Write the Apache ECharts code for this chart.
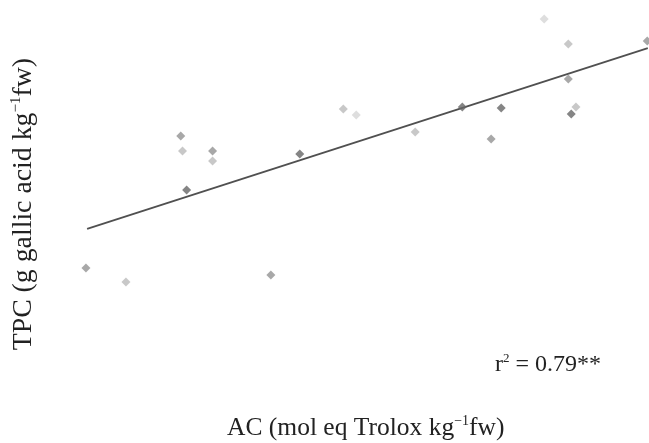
<!DOCTYPE html>
<html>
<head>
<meta charset="utf-8">
<script src="https://cdn.jsdelivr.net/npm/echarts@6/dist/echarts.min.js"></script>
<style>
html,body{margin:0;padding:0;background:#fff;}
#chart{width:649px;height:443px;}
</style>
</head>
<body>
<div id="chart"></div>
<script>
// Data (arbitrary units, no tick labels shown)
const pointsDark   = [[2.15,3.57],[4.07,4.86],[6.83,6.54],[7.49,6.50],[8.68,6.29]];
const pointsMedium = [[0.44,0.79],[2.05,5.50],[2.59,4.96],[3.58,0.54],[7.32,5.39],[8.63,7.54],[9.97,8.89]];
const pointsLight  = [[1.12,0.29],[2.08,4.96],[2.59,4.61],[4.81,6.46],[6.03,5.64],[8.63,8.79],[8.76,6.54]];
const pointsPale   = [[5.03,6.25],[8.22,9.68]];
const trendLine    = [[0.46,2.18],[9.98,8.64]];
const xTitle = 'AC (mol eq Trolox kg';
const yTitle = 'TPC (g gallic acid kg';
const r2Text = '= 0.79**';

const chart = echarts.init(document.getElementById('chart'), null, {renderer:'canvas'});
const serif = '"Liberation Serif","DejaVu Serif",serif';
const sym = {type:'scatter', symbol:'diamond', symbolSize:9, z:3};
const hiddenAxis = {
  type:'value', min:0, max:10,
  axisLine:{show:false}, axisTick:{show:false}, axisLabel:{show:false}, splitLine:{show:false}
};
function richStyle(size, lh) {
  return {
    a:{fontFamily:serif, fontSize:size, fill:'#222', lineHeight:lh},
    s:{fontFamily:serif, fontSize:Math.round(size*0.55), fill:'#222', verticalAlign:'top', lineHeight:lh}
  };
}
chart.setOption({
  animation:false,
  backgroundColor:'#fff',
  grid:{left:60, right:0, top:10, height:280, containLabel:false},
  xAxis:Object.assign({}, hiddenAxis),
  yAxis:Object.assign({}, hiddenAxis),
  series:[
    {type:'line', data:trendLine, symbol:'none', lineStyle:{color:'#505050', width:1.8}, z:2},
    Object.assign({}, sym, {data:pointsPale,   itemStyle:{color:'#d6d6d6'}}),
    Object.assign({}, sym, {data:pointsLight,  itemStyle:{color:'#bababa'}}),
    Object.assign({}, sym, {data:pointsMedium, itemStyle:{color:'#929292'}}),
    Object.assign({}, sym, {data:pointsDark,   itemStyle:{color:'#666666'}})
  ],
  graphic:[
    {type:'text', left:495, top:352, style:{
      text:'{a|r}{s|2}{a| ' + r2Text + '}',
      rich:richStyle(24, 26)
    }},
    {type:'text', left:227, top:414, style:{
      text:'{a|' + xTitle + '}{s|−1}{a|fw)}',
      rich:richStyle(25.5, 28)
    }},
    {type:'text', left:9, top:58, rotation:Math.PI/2, style:{
      text:'{a|' + yTitle + '}{s|−1}{a|fw)}',
      rich:richStyle(27.8, 30)
    }}
  ]
});
</script>
</body>
</html>
